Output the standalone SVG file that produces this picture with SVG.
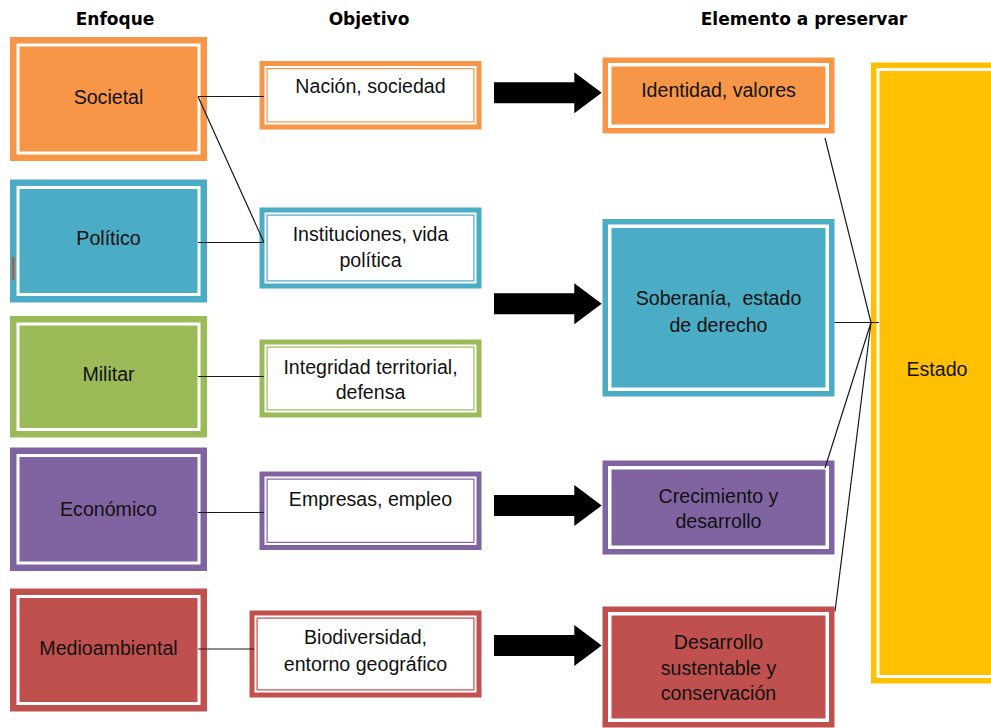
<svg xmlns="http://www.w3.org/2000/svg" width="991" height="728" viewBox="0 0 991 728">
<style>
.t{font-family:"Liberation Sans",Arial,sans-serif;font-size:19.6px;fill:#111;text-anchor:middle}
.h{font-family:"DejaVu Sans",sans-serif;font-weight:bold;font-size:17px;fill:#000;text-anchor:middle}
.ln{stroke:#1a1a1a;stroke-width:1.2;fill:none}
.w{fill:#fff}
.o{fill:#F79646}.b{fill:#4BACC6}.g{fill:#9BBB59}.p{fill:#8064A2}.r{fill:#C0504D}.y{fill:#FFC000}
.so{fill:none;stroke:#F79646;stroke-width:1.2}
.sb{fill:none;stroke:#4BACC6;stroke-width:1.2}
.sg{fill:none;stroke:#9BBB59;stroke-width:1.2}
.sp{fill:none;stroke:#8064A2;stroke-width:1.2}
.sr{fill:none;stroke:#C0504D;stroke-width:1.2}
</style>
<defs>
<path id="arr" d="M0,-10.5 H80.3 V-20.5 L107.7,0 L80.3,20.5 V10.5 H0 Z" fill="#000"/>
</defs>
<rect width="991" height="728" fill="#fff"/>

<g id="headers">
<text class="h" x="115" y="25">Enfoque</text>
<text class="h" x="369" y="25">Objetivo</text>
<text class="h" x="804" y="25">Elemento a preservar</text>
</g>

<!-- Left column -->
<g id="societal">
<rect class="o" x="10" y="37" width="197" height="124"/>
<rect class="w" x="16.5" y="43.5" width="184" height="111"/>
<rect class="o" x="19.5" y="46.5" width="178" height="105"/>
<text class="t" x="108.5" y="103.5">Societal</text>
</g>
<g id="politico">
<rect class="b" x="10" y="179.5" width="197" height="123"/>
<rect class="w" x="16.5" y="186" width="184" height="110"/>
<rect class="b" x="19.5" y="189" width="178" height="104"/>
<rect x="12" y="257" width="2.5" height="23" fill="#B55A3E"/>
<text class="t" x="108.5" y="245">Político</text>
</g>
<g id="militar">
<rect class="g" x="10" y="316" width="197" height="121.5"/>
<rect class="w" x="16.5" y="322.5" width="184" height="108.5"/>
<rect class="g" x="19.5" y="325.5" width="178" height="102.5"/>
<text class="t" x="108.5" y="381">Militar</text>
</g>
<g id="economico">
<rect class="p" x="10" y="447.5" width="197" height="123.5"/>
<rect class="w" x="16.5" y="454" width="184" height="110.5"/>
<rect class="p" x="19.5" y="457" width="178" height="104.5"/>
<text class="t" x="108.5" y="516">Económico</text>
</g>
<g id="medioambiental">
<rect class="r" x="10" y="588.5" width="197" height="123"/>
<rect class="w" x="16.5" y="595" width="184" height="110"/>
<rect class="r" x="19.5" y="598" width="178" height="104"/>
<text class="t" x="108.5" y="655">Medioambiental</text>
</g>

<!-- Middle column -->
<g id="nacion">
<rect class="o" x="259.5" y="61" width="222" height="68.5"/>
<rect class="w" x="264.5" y="66" width="212" height="58.5"/>
<rect class="so" x="267.1" y="68.6" width="206.8" height="53.3"/>
<text class="t" x="370.5" y="93">Nación, sociedad</text>
</g>
<g id="instituciones">
<rect class="b" x="259.5" y="207.5" width="222" height="81"/>
<rect class="w" x="264.5" y="212.5" width="212" height="71"/>
<rect class="sb" x="267.1" y="215.1" width="206.8" height="65.8"/>
<text class="t" x="370.5" y="241">Instituciones, vida</text>
<text class="t" x="370.5" y="266.5">política</text>
</g>
<g id="integridad">
<rect class="g" x="259.5" y="339.5" width="222" height="78"/>
<rect class="w" x="264.5" y="344.5" width="212" height="68"/>
<rect class="sg" x="267.1" y="347.1" width="206.8" height="62.8"/>
<text class="t" x="370.5" y="373.5">Integridad territorial,</text>
<text class="t" x="370.5" y="398.5">defensa</text>
</g>
<g id="empresas">
<rect class="p" x="259.5" y="471.5" width="222" height="78.5"/>
<rect class="w" x="264.5" y="476.5" width="212" height="68.5"/>
<rect class="sp" x="267.1" y="479.1" width="206.8" height="63.3"/>
<text class="t" x="370.5" y="505.5">Empresas, empleo</text>
</g>
<g id="biodiversidad">
<rect class="r" x="249.5" y="610.5" width="232" height="87"/>
<rect class="w" x="254.5" y="615.5" width="222" height="77"/>
<rect class="sr" x="257.1" y="618.1" width="216.8" height="71.8"/>
<text class="t" x="365.5" y="643.5">Biodiversidad,</text>
<text class="t" x="365.5" y="670.5">entorno geográfico</text>
</g>

<!-- Right column -->
<g id="identidad">
<rect class="o" x="602.5" y="57.5" width="232" height="76"/>
<rect class="w" x="608" y="63" width="221" height="65"/>
<rect class="o" x="611.5" y="66.5" width="214" height="58"/>
<text class="t" x="718.5" y="96.5">Identidad, valores</text>
</g>
<g id="soberania">
<rect class="b" x="602.5" y="219" width="232" height="177.5"/>
<rect class="w" x="608" y="224.5" width="221" height="166.5"/>
<rect class="b" x="611.5" y="228" width="214" height="159.5"/>
<text class="t" x="718.5" y="305" style="white-space:pre">Soberanía,  estado</text>
<text class="t" x="718.5" y="332">de derecho</text>
</g>
<g id="crecimiento">
<rect class="p" x="602.5" y="460.5" width="232" height="94"/>
<rect class="w" x="608" y="466" width="221" height="83"/>
<rect class="p" x="611.5" y="469.5" width="214" height="76"/>
<text class="t" x="718.5" y="502.5">Crecimiento y</text>
<text class="t" x="718.5" y="527.5">desarrollo</text>
</g>
<g id="desarrollo">
<rect class="r" x="602.5" y="606.5" width="232" height="121"/>
<rect class="w" x="608" y="612" width="221" height="110"/>
<rect class="r" x="611.5" y="615.5" width="214" height="103"/>
<text class="t" x="718.5" y="648.5">Desarrollo</text>
<text class="t" x="718.5" y="675">sustentable y</text>
<text class="t" x="718.5" y="700">conservación</text>
</g>

<g id="estado">
<rect class="y" x="871" y="62.5" width="140" height="621"/>
<rect class="w" x="876.5" y="68" width="129" height="610"/>
<rect class="y" x="879.5" y="71" width="123" height="604"/>
<text class="t" x="937" y="375.5">Estado</text>
</g>

<g id="connectors">
<path class="ln" d="M198 96.5H264M198 96.5L264 242.5M198 242.5H264M198 376.5H264M198 512.5H264M198 649H254"/>
<path class="ln" d="M825 138L871 322.5M834.5 322.5H879M825 468L871 322.5M835 611.5L871 322.5"/>
<use href="#arr" x="494" y="92.8"/>
<use href="#arr" x="494" y="303.7"/>
<use href="#arr" x="494" y="505.5"/>
<use href="#arr" x="494" y="645.5"/>
</g>
</svg>
